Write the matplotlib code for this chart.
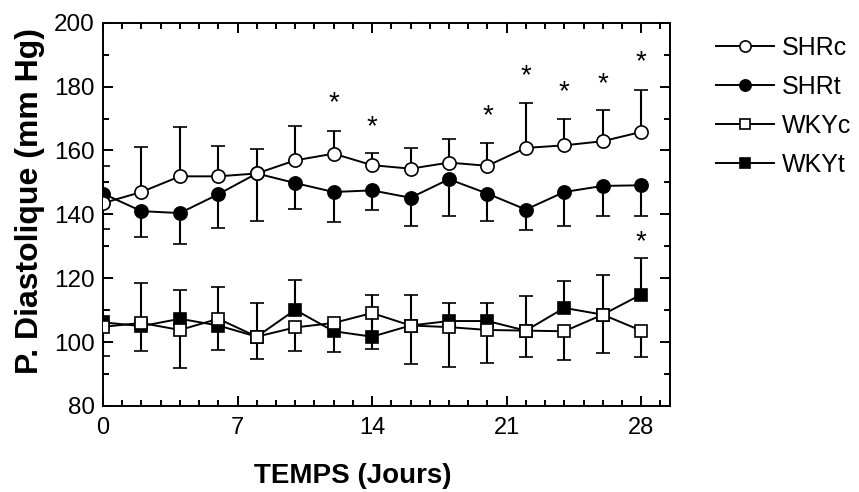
import matplotlib
matplotlib.use('Agg')
import matplotlib.pyplot as plt
import matplotlib.transforms as mtransforms
import numpy as np
from matplotlib.ticker import MultipleLocator

plt.rcParams['font.family'] = ['Liberation Sans', 'DejaVu Sans']

# Days of measurement
days = [0, 2, 4, 6, 8, 10, 12, 14, 16, 18, 20, 22, 24, 26, 28]

# SHR control (open circles), error bars drawn upward
shrc = [143.5, 147.0, 151.9, 151.9, 152.8, 156.9, 159.0, 155.4, 154.3, 156.2, 155.2, 160.8, 161.6, 162.9, 165.8]
shrc_err = [11.5, 14.1, 15.3, 9.4, 7.8, 10.8, 7.0, 3.8, 6.5, 7.3, 7.2, 14.1, 8.4, 9.9, 13.1]

# SHR treated (filled circles), error bars drawn downward
shrt = [146.5, 141.0, 140.4, 146.3, 152.8, 149.8, 147.0, 147.5, 145.2, 151.0, 146.5, 141.5, 147.0, 148.9, 149.1]
shrt_err = [11.0, 8.1, 9.8, 10.6, 14.9, 8.0, 9.5, 6.0, 8.7, 11.4, 8.7, 6.3, 10.7, 9.3, 9.5]

# WKY control (open squares), error bars drawn downward
wkyc = [104.8, 106.0, 103.8, 107.3, 101.7, 104.6, 106.0, 109.1, 105.2, 104.7, 103.8, 103.6, 103.4, 108.6, 103.6]
wkyc_err = [9.0, 8.9, 11.8, 9.9, 7.0, 7.3, 9.1, 11.3, 12.0, 12.4, 10.2, 8.2, 9.0, 12.1, 8.2]

# WKY treated (filled squares), error bars drawn upward
wkyt = [106.2, 105.0, 107.3, 105.2, 101.7, 110.1, 103.4, 101.7, 105.2, 106.6, 106.6, 103.6, 110.7, 108.6, 114.9]
wkyt_err = [4.0, 13.4, 9.0, 11.9, 10.4, 9.4, 2.5, 13.2, 9.4, 5.6, 5.6, 10.8, 8.4, 12.4, 11.5]

# Significance stars
star_days = [12, 14, 20, 22, 24, 26, 28, 28]
star_y = [176.0, 168.6, 171.9, 184.4, 179.7, 182.2, 188.8, 132.6]

fig = plt.figure(figsize=(8.59, 4.92), dpi=100)
ax = fig.add_axes([103 / 859, 1 - 406 / 492, (670 - 103) / 859, (406 - 22.7) / 492])


def draw(y, err, up, marker, face, label, z):
    zeros = np.zeros(len(err))
    yerr = [zeros, err] if up else [err, zeros]
    cont = ax.errorbar(days, y, yerr=yerr, fmt='-', color='black', marker=marker,
                       markersize=9.5 if marker == 'o' else 9.2,
                       markerfacecolor=face, markeredgecolor='black', markeredgewidth=1.2,
                       linewidth=1.4, elinewidth=1.5, capsize=4.8, capthick=1.5,
                       label=label, zorder=z)
    # hide the zero-length cap on the side without an error bar
    cont[1][0 if up else 1].set_visible(False)
    return cont[0]


h_wkyt = draw(wkyt, wkyt_err, True, 's', 'black', 'WKYt', 2)
h_wkyc = draw(wkyc, wkyc_err, False, 's', 'white', 'WKYc', 3)
h_shrt = draw(shrt, shrt_err, False, 'o', 'black', 'SHRt', 4)
h_shrc = draw(shrc, shrc_err, True, 'o', 'white', 'SHRc', 5)

star_off = mtransforms.offset_copy(ax.transData, fig=fig, x=0, y=-3, units='points')
for d, s in zip(star_days, star_y):
    ax.text(d, s, '*', ha='center', va='center', fontsize=20, transform=star_off)

ax.set_xlim(0, 29.5)
ax.set_ylim(80, 200)
ax.set_xticks([0, 7, 14, 21, 28])
ax.xaxis.set_minor_locator(MultipleLocator(1))
ax.set_yticks([80, 100, 120, 140, 160, 180, 200])
ax.yaxis.set_minor_locator(MultipleLocator(10))
ax.tick_params(which='both', direction='in', top=True, right=True, width=1.4)
ax.tick_params(which='major', length=7.5)
ax.tick_params(which='minor', length=4)
ax.tick_params(axis='x', labelsize=17, pad=8)
ax.tick_params(axis='y', labelsize=17.5, pad=6)
for sp in ax.spines.values():
    sp.set_linewidth(1.4)

ax.set_xlabel('TEMPS (Jours)', fontsize=20, fontweight='bold')
ax.xaxis.set_label_coords(0.441, -0.15)
ax.set_ylabel('P. Diastolique (mm Hg)', fontsize=23, fontweight='bold')
ax.yaxis.set_label_coords(-0.102, 0.535)

fig.legend([h_shrc, h_shrt, h_wkyc, h_wkyt], ['SHRc', 'SHRt', 'WKYc', 'WKYt'],
           loc='upper left', bbox_to_anchor=(716 / 859, 1 - 36 / 492), frameon=False,
           fontsize=18, handlelength=2.3, handletextpad=0.35, labelspacing=0.6,
           borderpad=0, borderaxespad=0, markerscale=0.85)

fig.savefig('out.png', dpi=100)
